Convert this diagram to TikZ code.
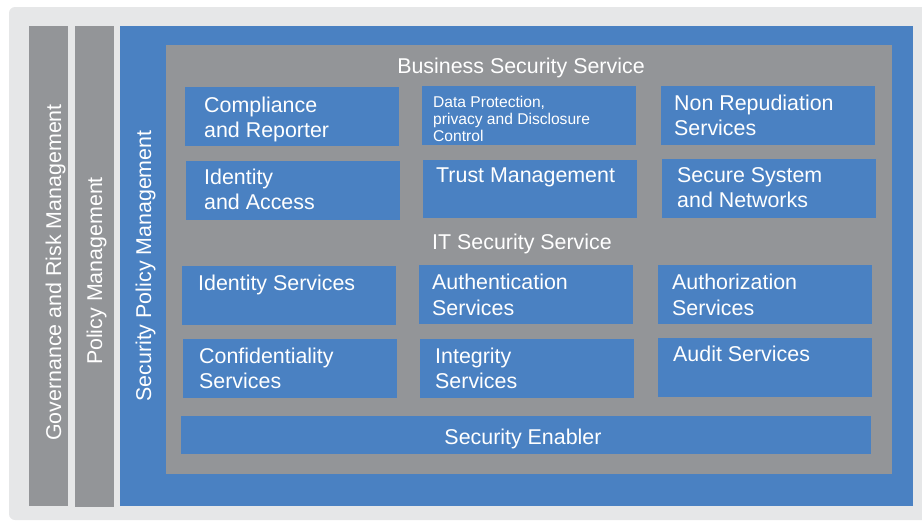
\documentclass[tikz,border=0pt]{standalone}
\usepackage{fontspec}
\setmainfont{Liberation Sans}
\definecolor{bluefill}{RGB}{74,129,194}
\definecolor{grayfill}{RGB}{147,149,152}
\definecolor{panelfill}{RGB}{230,231,232}
\begin{document}
\begin{tikzpicture}[x=1pt,y=-1pt,
  panel/.style={inner sep=0pt, outer sep=0pt, draw=none, anchor=north west},
  bluebox/.style={panel, fill=bluefill},
  graybox/.style={panel, fill=grayfill},
  card/.style={bluebox, minimum width=214pt, minimum height=59pt},
  lbl/.style={text=white, inner sep=0pt, align=left, anchor=base west, font=\fontsize{21.4}{25.5}\selectfont},
  smalllbl/.style={lbl, font=\fontsize{15.6}{17}\selectfont},
  title/.style={text=white, inner sep=0pt, anchor=base, font=\fontsize{21.4}{25.5}\selectfont},
  vlbl/.style={title, rotate=90}]
\useasboundingbox (0,0) rectangle (922,522);
\fill[panelfill, rounded corners=6pt] (9,7) rectangle (940,520);
% side columns
\node[graybox, minimum width=39pt, minimum height=480pt] (gov) at (29,26) {};
\node[graybox, minimum width=39pt, minimum height=481pt] (pol) at (75,26) {};
\node[bluebox, minimum width=793pt, minimum height=480pt] (spm) at (120,26) {};
\node[graybox, minimum width=726pt, minimum height=429pt] (inner) at (166,45) {};
\node[vlbl] (govT) at (61,272.5) {Governance and Risk Management};
\node[vlbl] (polT) at (102,271) {Policy Management};
\node[vlbl] (spmT) at (151,266) {Security Policy Management};
% business security service (multi-line labels: anchor at last baseline)
\node[title] (bss) at (521,73) {Business Security Service};
\node[card] (compl) at (185,87) {};
\node[card] (data) at (422,86) {};
\node[card] (nonrep) at (661,86) {};
\node[card] (ida) at (186,161) {};
\node[card, minimum height=58pt] (trust) at (423,160) {};
\node[card] (secsys) at (662,159) {};
\node[lbl] (complT) at (204,137.5) {Compliance\\and Reporter};
\node[smalllbl] (dataT) at (433,141) {Data Protection,\\privacy and Disclosure\\Control};
\node[lbl] (nonrepT) at (674,135.5) {Non Repudiation\\Services};
\node[lbl] (idaT) at (204,209.5) {Identity\\and Access};
\node[lbl] (trustT) at (436,182) {Trust Management};
\node[lbl] (secsysT) at (677,207.5) {Secure System\\and Networks};
% IT security service
\node[title] (itss) at (522,249) {IT Security Service};
\node[card] (ids) at (182,266) {};
\node[card] (authn) at (419,265) {};
\node[card] (authz) at (658,265) {};
\node[card] (conf) at (183,339) {};
\node[card] (integ) at (420,339) {};
\node[card] (audit) at (658,338) {};
\node[lbl] (idsT) at (198,290) {Identity Services};
\node[lbl] (authnT) at (432,315) {Authentication\\Services};
\node[lbl] (authzT) at (672,315) {Authorization\\Services};
\node[lbl] (confT) at (199,388.5) {Confidentiality\\Services};
\node[lbl] (integT) at (435,388.5) {Integrity\\Services};
\node[lbl] (auditT) at (673,361.5) {Audit Services};
% security enabler
\node[bluebox, minimum width=690pt, minimum height=38pt] (enab) at (181,416) {};
\node[title] (enabT) at (523,444) {Security Enabler};
\end{tikzpicture}
\end{document}
